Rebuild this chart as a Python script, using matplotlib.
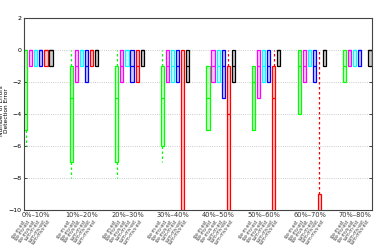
import numpy as np
import matplotlib
matplotlib.use("Agg")
import matplotlib.pyplot as plt

groups = ["0%–10%", "10%–20%", "20%–30%", "30%–40%",
          "40%–50%", "50%–60%", "60%–70%", "70%–80%"]
methods = ["ste-m", "ste-mv", "ste-mvs", "sum-m", "sum-mv", "sum-mvs"]
colors = ["#00ff00", "#ff00ff", "#00ffff", "#0000ff", "#ff0000", "#000000"]

# per method (rows) and group (columns); nan = no box
whis_hi = [[0, 0, 0, 0, -1, -1, 0, 0],
           [0, 0, 0, 0, 0, 0, 0, 0],
           [0, 0, 0, 0, 0, 0, 0, 0],
           [0, 0, 0, 0, 0, 0, 0, 0],
           [0, 0, 0, 0, 0, 0, 0, np.nan],
           [0, 0, 0, 0, 0, 0, 0, 0]]
q3 = [[0, -1, -1, -1, -1, -1, 0, 0],
      [0, 0, 0, 0, 0, 0, 0, 0],
      [0, 0, 0, 0, 0, 0, 0, 0],
      [0, 0, 0, 0, 0, 0, 0, 0],
      [0, 0, 0, 0, -1, -1, -9, np.nan],
      [0, 0, 0, 0, 0, 0, 0, 0]]
med = [[0, -3, -3, -3, -3, -2, -1, -1],
       [0, -1, -1, -1, -1, -1, -1, 0],
       [0, 0, 0, -1, -1, -1, 0, 0],
       [0, -1, -1, -1, -1, -1, -1, 0],
       [0, 0, -1, -12, -4, -3, -12, np.nan],
       [0, 0, 0, -1, -1, 0, 0, 0]]
q1 = [[-5, -7, -7, -6, -5, -5, -4, -2],
      [-1, -2, -2, -2, -2, -3, -2, -1],
      [-1, -1, -1, -2, -2, -2, -1, -1],
      [-1, -2, -2, -2, -3, -2, -2, -1],
      [-1, -1, -2, -12, -12, -12, -12, np.nan],
      [-1, -1, -1, -2, -2, -1, -1, -1]]
whis_lo = [[-6, -8, -8, -7, -5, -5, -4, -2],
           [-1, -2, -2, -2, -2, -3, -2, -1],
           [-1, -1, -1, -2, -2, -2, -1, -1],
           [-1, -2, -2, -2, -3, -2, -2, -1],
           [-1, -1, -2, -12, -12, -12, -12, np.nan],
           [-1, -1, -1, -2, -2, -1, -1, -1]]

fig = plt.figure(figsize=(3.74, 2.49), dpi=100)
ax = fig.add_axes([24 / 374, 39 / 249, 348 / 374, 192 / 249])

gap = 9
for m in range(len(methods)):
    stats, pos = [], []
    for g in range(len(groups)):
        if np.isnan(q3[m][g]):
            continue
        stats.append(dict(med=med[m][g], q1=q1[m][g], q3=q3[m][g],
                          whislo=whis_lo[m][g], whishi=whis_hi[m][g], fliers=[]))
        pos.append(g * gap + m)
    c = colors[m]
    ax.bxp(stats, positions=pos, widths=0.62, showcaps=False, patch_artist=True,
           boxprops=dict(edgecolor=c, facecolor=matplotlib.colors.to_rgba(c, 0.2), lw=0.9),
           medianprops=dict(color=c, lw=0.9),
           whiskerprops=dict(color=c, lw=0.9, linestyle=(0, (2, 2))),
           manage_ticks=False)

ax.set_xlim(-0.34, 68.4)
ax.set_ylim(-10, 2)
ax.set_yticks(np.arange(-10, 3, 2))
ax.set_xticks([])
ax.yaxis.grid(True, linestyle=":", color="#bbbbbb", lw=0.6)
ax.tick_params(axis="y", labelsize=4.5, direction="in", length=2, right=True, width=0.5, pad=2)
for s in ax.spines.values():
    s.set_linewidth(0.8)
    s.set_color("#444444")
ax.set_ylabel("Number of Errors\nDetection Error", fontsize=4.2, linespacing=1.1)
ax.yaxis.set_label_coords(-0.042, 0.52)

trans = matplotlib.transforms.blended_transform_factory(ax.transData, ax.transAxes)
for g, name in enumerate(groups):
    ax.text(g * gap + 2.1, -0.01, name, transform=trans, fontsize=4.8,
            ha="center", va="top", color="#333333")
    for m, lab in enumerate(methods):
        ax.text(g * gap + m + 0.2, -0.045, lab + "-est", transform=trans, fontsize=3.3,
                rotation=55, ha="right", va="top", color="#444444")

fig.savefig("out.png", dpi=100)
